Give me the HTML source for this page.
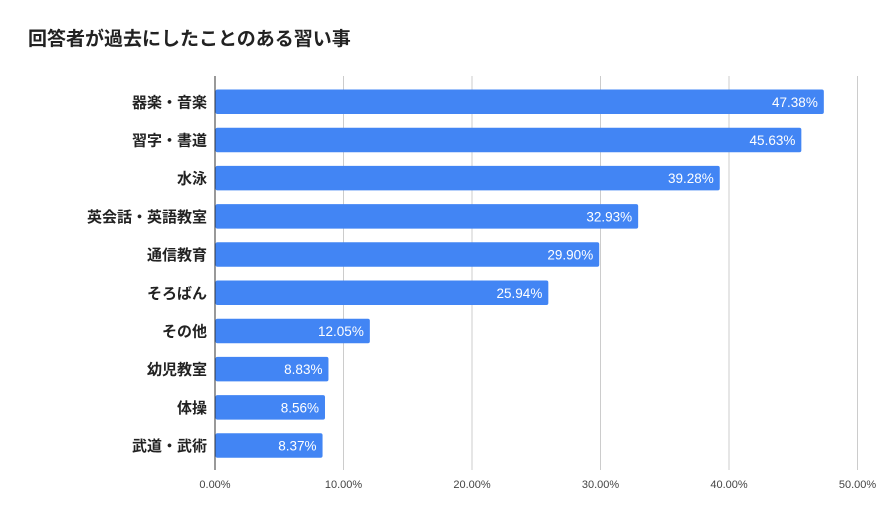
<!DOCTYPE html>
<html><head><meta charset="utf-8"><style>
body{margin:0;background:#fff;}
svg{display:block;font-family:"Liberation Sans","Noto Sans CJK JP",sans-serif;}
</style></head><body>
<svg width="885" height="522" id="c">
<text x="28" y="45" font-size="19" font-weight="bold" fill="#222">回答者が過去にしたことのある習い事</text>
</svg>
<script>
const categories=["器楽・音楽","習字・書道","水泳","英会話・英語教室","通信教育","そろばん","その他","幼児教室","体操","武道・武術"];
const values=[47.38,45.63,39.28,32.93,29.90,25.94,12.05,8.83,8.56,8.37];
const ticks=[0,10,20,30,40,50];
const svg=document.getElementById('c');
const NS='http://www.w3.org/2000/svg';
const x0=215,pxPer=128.5,top0=89.5,pitch=38.2,bh=24.5,gTop=76,gBot=470;
const xs=v=>x0+v*pxPer/10;
function mk(t,a){const e=document.createElementNS(NS,t);for(const k in a)e.setAttribute(k,a[k]);svg.appendChild(e);return e;}
ticks.forEach((t,i)=>{
 const g=mk('line',{x1:xs(t),x2:xs(t),y1:gTop,y2:gBot,stroke:i==0?'#333':'#ccc','stroke-width':1});
 
 
 const l=mk('text',{x:xs(t),y:488,'font-size':11,fill:'#444','text-anchor':'middle'});
 l.textContent=t.toFixed(2)+'%';
 
 
});
categories.forEach((c,i)=>{
 const y=top0+i*pitch;
 const r=mk('rect',{x:x0+0.5,y:y,width:xs(values[i])-x0-0.5,height:bh,rx:2,fill:'#4285f4'});
 
 
 const v=mk('text',{x:xs(values[i])-6,y:y+bh/2+5,'font-size':13.5,fill:'#fff','text-anchor':'end'});
 v.textContent=values[i].toFixed(2)+'%';
 
 
 const t=mk('text',{x:207,y:y+bh/2+5.5,'font-size':15,'font-weight':'bold',fill:'#222','text-anchor':'end'});
 t.textContent=c;
 
 
});
</script>
</body></html>
